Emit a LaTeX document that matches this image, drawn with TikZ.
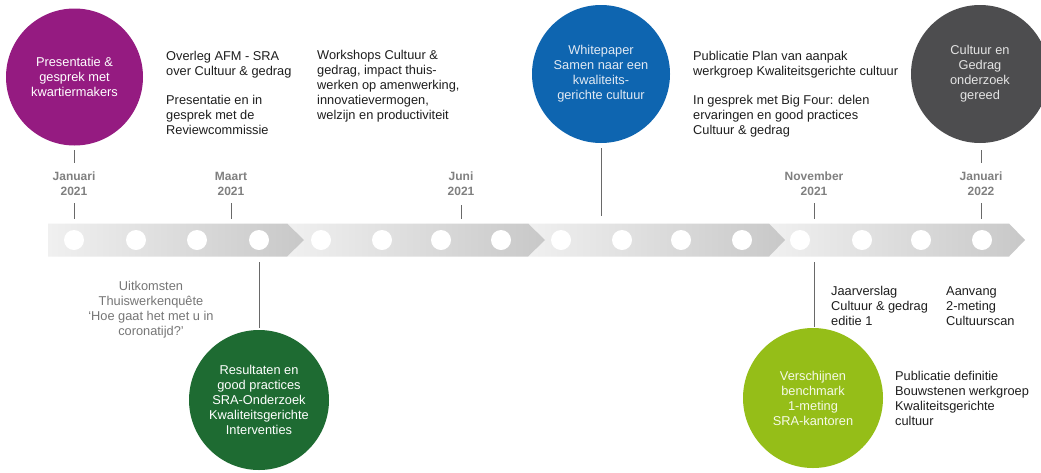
\documentclass[tikz,border=0pt]{standalone}
\usepackage{fontspec}
\setmainfont{Liberation Sans}
\definecolor{cpurple}{RGB}{149,27,129}
\definecolor{cblue}{RGB}{14,101,176}
\definecolor{cdark}{RGB}{77,77,79}
\definecolor{cgreen}{RGB}{30,107,50}
\definecolor{clime}{RGB}{149,190,24}
\definecolor{ctick}{RGB}{105,105,105}
\definecolor{clabel}{RGB}{128,128,128}
\definecolor{cgraytext}{RGB}{118,118,118}
\definecolor{ctext}{RGB}{30,30,30}
\definecolor{bandL}{RGB}{240,240,240}
\definecolor{bandR}{RGB}{200,200,200}
\begin{document}
\begin{tikzpicture}[x=1pt,y=-1pt,
  bubble/.style={circle, minimum size=138pt, inner sep=0, align=center, font=\fontsize{12.8}{15}\selectfont},
  datelabel/.style={align=center, font=\fontsize{12}{15}\selectfont\bfseries, text=clabel, inner sep=0},
  note/.style={align=left, anchor=north west, font=\fontsize{12.8}{15}\selectfont, text=ctext, inner sep=0},
  tickline/.style={draw=ctick, line width=1pt},
  dot/.style={circle, fill=white, minimum size=20pt, inner sep=0},
]
\useasboundingbox (0,0) rectangle (1041,472);
\fill[white] (0,0) rectangle (1041,472);

% band segments (right to left so tips overlap)
\shade[left color=bandL, right color=bandR] (769,223.5) -- (1009,223.5) -- (1025,240) -- (1009,256.5) -- (769,256.5) -- cycle;
\shade[left color=bandL, right color=bandR] (528,223.5) -- (769,223.5) -- (785,240) -- (769,256.5) -- (528,256.5) -- cycle;
\shade[left color=bandL, right color=bandR] (287,223.5) -- (528,223.5) -- (545,240) -- (528,256.5) -- (287,256.5) -- cycle;
\shade[left color=bandL, right color=bandR] (48,223.5) -- (287,223.5) -- (304,240) -- (287,256.5) -- (48,256.5) -- cycle;

% dots
\foreach \x [count=\i] in {74,136,197,259,321,382,441,501,561,622,681,742,800,862,921,982}
  \node[dot] (d\i) at (\x,240) {};

% circles
\node[bubble, fill=cpurple, text=white, minimum size=137pt] (purple) at (74.5,77) {Presentatie \&\\gesprek met\\kwartiermakers};
\node[bubble, fill=cblue, text={rgb,255:red,225;green,233;blue,243}] (blue) at (601,74) {Whitepaper\\Samen naar een\\kwaliteits-\\gerichte cultuur};
\node[bubble, fill=cdark, text={rgb,255:red,228;green,228;blue,228}] (dark) at (980,74) {Cultuur en\\Gedrag\\onderzoek\\gereed};
\node[bubble, fill=cgreen, text=white, minimum size=140pt] (green) at (259,400) {Resultaten en\\good practices\\SRA-Onderzoek\\Kwaliteitsgerichte\\Interventies};
\node[bubble, fill=clime, text={rgb,255:red,246;green,250;blue,232}, minimum size=140pt] (lime) at (813,398) {Verschijnen\\benchmark\\1-meting\\SRA-kantoren};

% date labels
\node[datelabel] (jan21) at (74,183.5) {Januari\\2021};
\node[datelabel] (mrt21) at (231,183.5) {Maart\\2021};
\node[datelabel] (jun21) at (461,183.5) {Juni\\2021};
\node[datelabel] (nov21) at (814,183.5) {November\\2021};
\node[datelabel] (jan22) at (981,183.5) {Januari\\2022};

% notes
\node[note] (n1) at (166,51.5) {Overleg AFM - SRA\\over Cultuur \& gedrag};
\node[note] (n2) at (166,95.5) {Presentatie en in\\gesprek met de\\Reviewcommissie};
\node[note] (n3) at (317,50.5) {Workshops Cultuur \&\\gedrag, impact thuis-\\werken op amenwerking,\\innovatievermogen,\\welzijn en productiviteit};
\node[note] (n4) at (693,51.5) {Publicatie Plan van aanpak\\werkgroep Kwaliteitsgerichte cultuur};
\node[note] (n5) at (693,95.5) {In gesprek met Big Four: delen\\ervaringen en good practices\\Cultuur \& gedrag};
\node[note] (n6) at (831,286.5) {Jaarverslag\\Cultuur \& gedrag\\editie 1};
\node[note] (n7) at (946,286.5) {Aanvang\\2-meting\\Cultuurscan};
\node[note] (n8) at (895,371.5) {Publicatie definitie\\Bouwstenen werkgroep\\Kwaliteitsgerichte\\cultuur};
\node[note, anchor=north, align=center, text=cgraytext] (n9) at (151,281.5) {Uitkomsten\\Thuiswerkenquête\\‘Hoe gaat het met u in\\coronatijd?’};

% tick end coordinates
\coordinate (pA) at (74,150);  \coordinate (pB) at (74,163);
\coordinate (jA) at (74,203);  \coordinate (jB) at (74,219);
\coordinate (mA) at (231,203); \coordinate (mB) at (231,219);
\coordinate (uA) at (461,205); \coordinate (uB) at (461,219);
\coordinate (vA) at (814,203); \coordinate (vB) at (814,219);
\coordinate (kA) at (981,203); \coordinate (kB) at (981,219);
\coordinate (gA) at (981,150); \coordinate (gB) at (981,163);
\coordinate (wA) at (601,148); \coordinate (wB) at (601,216);
\coordinate (rA) at (259,262); \coordinate (rB) at (259,328);
\coordinate (lA) at (814,262); \coordinate (lB) at (814,327);

\draw[tickline] (pA) -- (pB);
\draw[tickline] (jA) -- (jB);
\draw[tickline] (mA) -- (mB);
\draw[tickline] (uA) -- (uB);
\draw[tickline] (vA) -- (vB);
\draw[tickline] (kA) -- (kB);
\draw[tickline] (gA) -- (gB);
\draw[tickline] (wA) -- (wB);
\draw[tickline] (rA) -- (rB);
\draw[tickline] (lA) -- (lB);
\end{tikzpicture}
\end{document}
